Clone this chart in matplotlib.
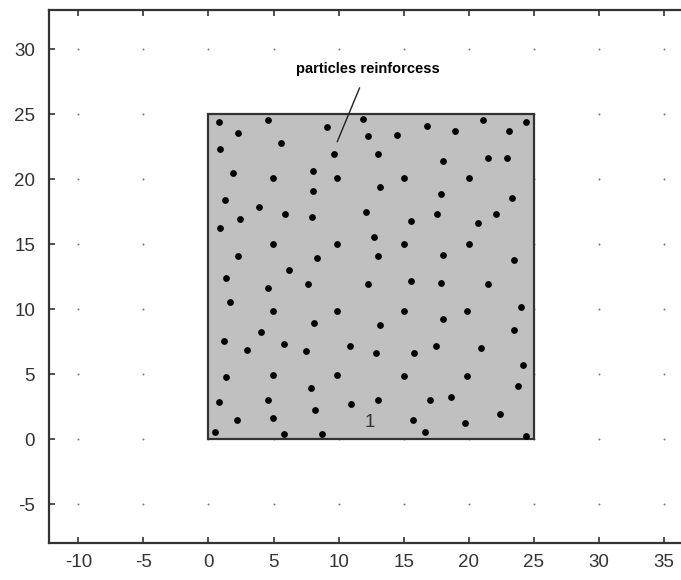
import numpy as np
import matplotlib
matplotlib.use("Agg")
import matplotlib.pyplot as plt
from matplotlib.patches import Rectangle

plt.rcParams['font.family'] = ['Liberation Sans', 'DejaVu Sans']
plt.rcParams['axes.unicode_minus'] = False

# matrix domain (square, 25 x 25)
domain_x, domain_y = 0, 0
domain_w, domain_h = 25, 25
domain_label = "1"

# particle centres inside the matrix
px = [0.78, 4.54, 2.24, 9.09, 11.90, 12.29, 0.90, 5.61, 9.65, 1.86,
      4.95, 8.04, 9.91, 8.04, 1.29, 3.87, 5.87, 7.94, 12.08, 2.42,
      0.90, 4.95, 9.91, 2.26, 8.32, 6.15,
      16.78, 21.07, 24.42, 14.51, 18.93, 23.10, 13.02, 17.98, 21.46, 22.94,
      15.02, 19.98, 13.15, 17.83, 23.35, 17.58, 22.12, 15.55, 20.67, 12.71,
      15.02, 19.98, 13.00, 17.98, 23.48,
      1.32, 4.54, 7.63, 12.25, 1.63, 4.95, 9.91, 8.07, 4.00, 1.17,
      2.95, 5.77, 7.50, 10.85, 1.32, 4.95, 9.91, 7.91, 0.78, 4.54,
      8.17, 10.98, 2.16, 4.95, 0.52, 5.77, 8.73,
      15.55, 17.83, 21.46, 15.02, 19.88, 24.04, 13.17, 17.98, 23.48, 17.45,
      20.92, 12.87, 15.81, 24.14, 15.02, 19.88, 23.76, 13.02, 17.04, 18.65,
      22.41, 15.71, 19.72, 16.66, 24.42]
py = [24.41, 24.54, 23.53, 23.97, 24.64, 23.28, 22.35, 22.74, 21.91, 20.44,
      20.05, 20.60, 20.05, 19.07, 18.41, 17.87, 17.33, 17.06, 17.48, 16.91,
      16.24, 15.03, 15.03, 14.08, 13.95, 13.00,
      24.07, 24.51, 24.38, 23.40, 23.69, 23.69, 21.91, 21.39, 21.65, 21.65,
      20.05, 20.05, 19.36, 18.82, 18.51, 17.33, 17.33, 16.79, 16.65, 15.57,
      15.03, 15.03, 14.08, 14.20, 13.79,
      12.43, 11.63, 11.92, 11.92, 10.57, 9.88, 9.88, 8.93, 8.25, 7.59,
      6.89, 7.30, 6.76, 7.17, 4.75, 4.91, 4.91, 3.93, 2.84, 2.98,
      2.28, 2.72, 1.51, 1.64, 0.58, 0.43, 0.43,
      12.19, 12.04, 11.92, 9.88, 9.88, 10.14, 8.79, 9.23, 8.38, 7.17,
      7.05, 6.63, 6.63, 5.68, 4.88, 4.88, 4.08, 2.98, 2.98, 3.23,
      1.92, 1.51, 1.25, 0.58, 0.27]

xticks = [-10, -5, 0, 5, 10, 15, 20, 25, 30, 35]
yticks = [-5, 0, 5, 10, 15, 20, 25, 30]

note_text = "particles reinforcess"
note_xy = (9.89, 22.87)
note_text_xy = (12.21, 28.46)

fig = plt.figure(figsize=(6.81, 5.80), dpi=100)
ax = fig.add_axes([49 / 681, 36.7 / 580, 632 / 681, 533.3 / 580])
ax.set_xlim(-12.25, 36.3)
ax.set_ylim(-8, 33)

# sparse dot grid at the tick crossings
gx, gy = np.meshgrid(xticks, yticks)
ax.scatter(gx.ravel(), gy.ravel(), s=2.0, color='#777777', lw=0, zorder=1)

ax.add_patch(Rectangle((domain_x, domain_y), domain_w, domain_h,
                       facecolor='#c0c0c0', edgecolor='#333333', lw=1.6, zorder=2))
ax.scatter(px, py, s=24, color='black', lw=0, zorder=3)
ax.text(domain_x + domain_w / 2 - 0.1, 1.28, domain_label, ha='center', va='center',
        fontsize=13.5, color='#333333', zorder=4)

ax.annotate(note_text, xy=note_xy, xytext=note_text_xy, ha='center', va='center',
            fontsize=10.5, fontweight='bold', color='black',
            arrowprops=dict(arrowstyle='-', color='#222222', lw=1.0,
                            shrinkA=7, shrinkB=0))

ax.set_xticks(xticks)
ax.set_yticks(yticks)
ax.tick_params(direction='in', length=4, width=1.2, color='#333333',
               labelsize=13.5, labelcolor='#333333', top=True, right=False)
ax.tick_params(axis='x', pad=8)
ax.tick_params(axis='y', pad=10)
for side in ['left', 'bottom', 'top']:
    ax.spines[side].set_color('#333333')
    ax.spines[side].set_linewidth(1.6)
ax.spines['right'].set_visible(False)

fig.savefig("out.png", dpi=100)
